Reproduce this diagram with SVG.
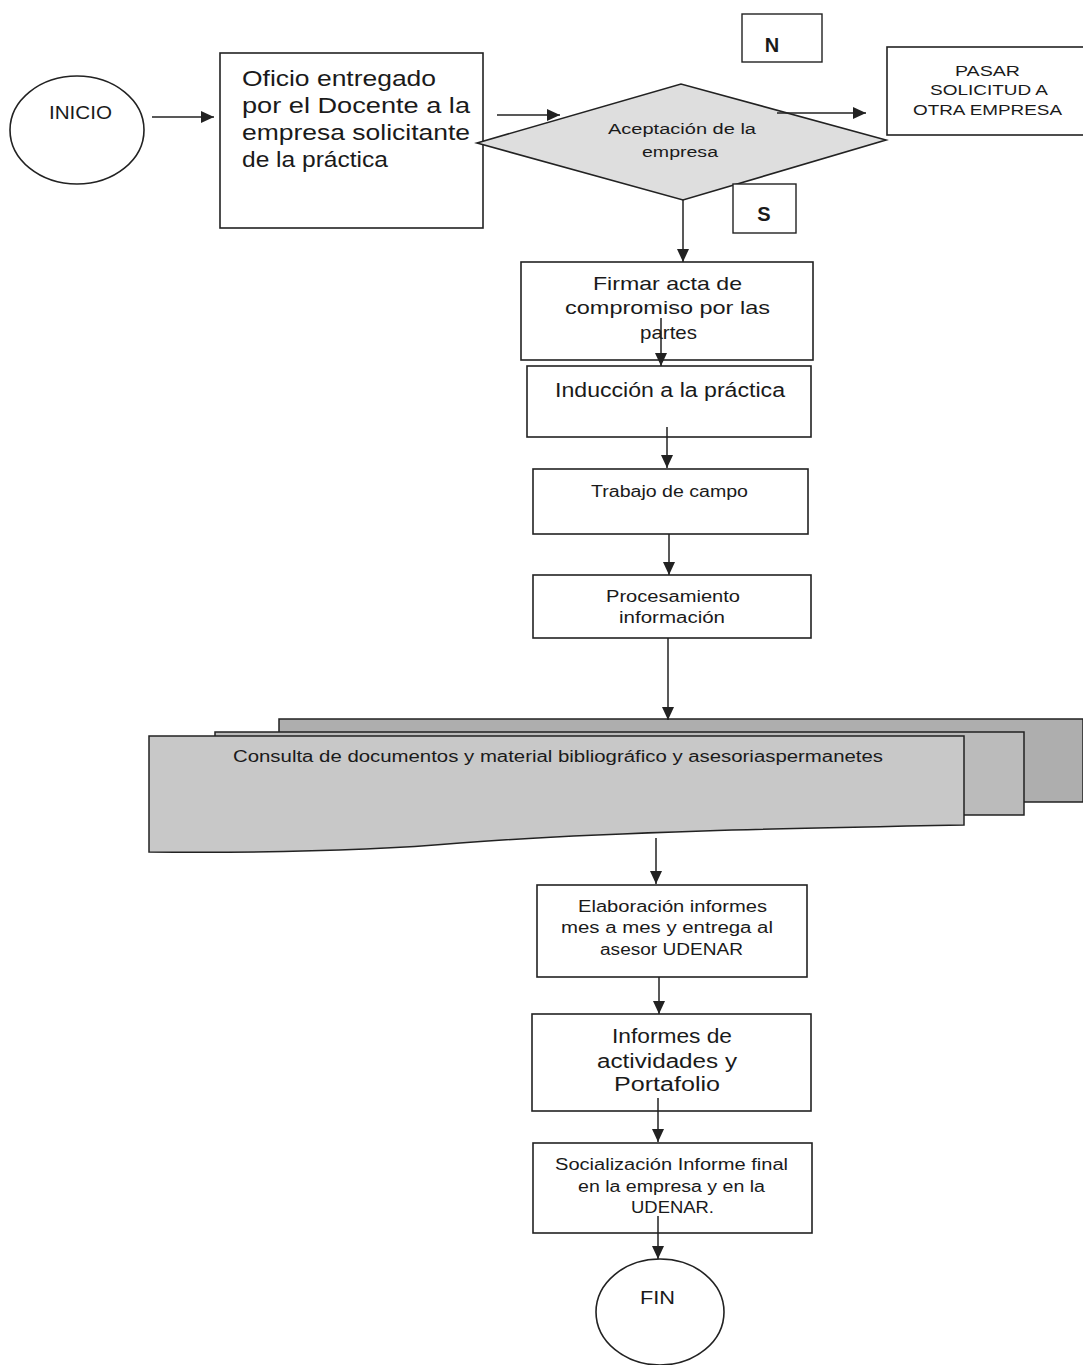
<svg xmlns="http://www.w3.org/2000/svg" width="1083" height="1365" viewBox="0 0 1083 1365">
<defs>
<style>
.box{fill:#ffffff;stroke:#222;stroke-width:1.6}
.dia{fill:#dedede;stroke:#222;stroke-width:1.6}
.lbl{fill:#ffffff;stroke:#222;stroke-width:1.4}
.t{font-family:"Liberation Sans",Arial,sans-serif;fill:#1a1a1a}
.c{text-anchor:middle}
.conn line{stroke:#222;stroke-width:1.5;marker-end:url(#ah)}
</style>
<marker id="ah" markerUnits="userSpaceOnUse" markerWidth="14" markerHeight="12" refX="13" refY="6" orient="auto">
<path d="M0,0 L13,6 L0,12 Z" fill="#222"/>
</marker>
</defs>
<rect width="1083" height="1365" fill="#ffffff"/>

<g id="sheets">
<path d="M279,719 H1083 V802 H279 Z" fill="#aeaeae" stroke="#222" stroke-width="1.5"/>
<path d="M215,732 H1024 V815 H215 Z" fill="#bbbbbb" stroke="#222" stroke-width="1.5"/>
<path d="M149,736 H964 V825 C 800,828 600,832 460,843 C 380,850 260,853 149,852 Z" fill="#c8c8c8" stroke="#222" stroke-width="1.5"/>
<text class="t" x="233" y="762" font-size="16" textLength="650" lengthAdjust="spacingAndGlyphs">Consulta de documentos y  material bibliográfico y asesoriaspermanetes</text>
</g>

<g id="inicio">
<ellipse cx="77" cy="130" rx="67" ry="54" class="box"/>
<text class="t" x="49" y="119" font-size="18" textLength="63" lengthAdjust="spacingAndGlyphs">INICIO</text>
</g>

<g id="oficio">
<rect x="220" y="53" width="263" height="175" class="box"/>
<text class="t" x="242" y="86" font-size="22" textLength="194" lengthAdjust="spacingAndGlyphs">Oficio entregado</text>
<text class="t" x="242" y="113" font-size="22" textLength="228" lengthAdjust="spacingAndGlyphs">por el Docente a la</text>
<text class="t" x="242" y="140" font-size="22" textLength="228" lengthAdjust="spacingAndGlyphs">empresa solicitante</text>
<text class="t" x="242" y="167" font-size="22" textLength="146" lengthAdjust="spacingAndGlyphs">de la práctica</text>
</g>

<g id="aceptacion">
<polygon points="477,143 681,84 886,140 683,200" class="dia"/>
<text class="t" x="608" y="134" font-size="15.5" textLength="148" lengthAdjust="spacingAndGlyphs">Aceptación de la</text>
<text class="t" x="642" y="157" font-size="15.5" textLength="76" lengthAdjust="spacingAndGlyphs">empresa</text>
</g>

<g id="labelN">
<rect x="742" y="14" width="80" height="48" class="lbl"/>
<text class="t c" x="772" y="52" font-size="20" font-weight="bold">N</text>
</g>

<g id="labelS">
<rect x="733" y="184" width="63" height="49" class="lbl"/>
<text class="t c" x="764" y="221" font-size="20" font-weight="bold">S</text>
</g>

<g id="pasar">
<rect x="887" y="47" width="200" height="88" class="box"/>
<text class="t" x="955" y="76" font-size="15" textLength="65" lengthAdjust="spacingAndGlyphs">PASAR</text>
<text class="t" x="930" y="95" font-size="15" textLength="118" lengthAdjust="spacingAndGlyphs">SOLICITUD A</text>
<text class="t" x="913" y="115" font-size="15" textLength="149" lengthAdjust="spacingAndGlyphs">OTRA EMPRESA</text>
</g>

<g id="firmar">
<rect x="521" y="262" width="292" height="98" class="box"/>
<text class="t" x="593" y="290" font-size="19" textLength="149" lengthAdjust="spacingAndGlyphs">Firmar acta de</text>
<text class="t" x="565" y="314" font-size="19" textLength="205" lengthAdjust="spacingAndGlyphs">compromiso por las</text>
<text class="t" x="640" y="339" font-size="19" textLength="57" lengthAdjust="spacingAndGlyphs">partes</text>
</g>

<g id="induccion">
<rect x="527" y="366" width="284" height="71" class="box"/>
<text class="t" x="555" y="397" font-size="20" textLength="230" lengthAdjust="spacingAndGlyphs">Inducción a la práctica</text>
</g>

<g id="trabajo">
<rect x="533" y="469" width="275" height="65" class="box"/>
<text class="t" x="591" y="497" font-size="16" textLength="157" lengthAdjust="spacingAndGlyphs">Trabajo de campo</text>
</g>

<g id="procesamiento">
<rect x="533" y="575" width="278" height="63" class="box"/>
<text class="t" x="606" y="602" font-size="16" textLength="134" lengthAdjust="spacingAndGlyphs">Procesamiento</text>
<text class="t" x="619" y="623" font-size="16" textLength="106" lengthAdjust="spacingAndGlyphs">información</text>
</g>

<g id="elaboracion">
<rect x="537" y="885" width="270" height="92" class="box"/>
<text class="t" x="578" y="912" font-size="16" textLength="189" lengthAdjust="spacingAndGlyphs">Elaboración informes</text>
<text class="t" x="561" y="933" font-size="16" textLength="212" lengthAdjust="spacingAndGlyphs">mes a mes y entrega al</text>
<text class="t" x="600" y="955" font-size="16" textLength="143" lengthAdjust="spacingAndGlyphs">asesor UDENAR</text>
</g>

<g id="informes">
<rect x="532" y="1014" width="279" height="97" class="box"/>
<text class="t" x="612" y="1043" font-size="20" textLength="120" lengthAdjust="spacingAndGlyphs">Informes de</text>
<text class="t" x="597" y="1068" font-size="20" textLength="140" lengthAdjust="spacingAndGlyphs">actividades y</text>
<text class="t" x="614" y="1091" font-size="20" textLength="106" lengthAdjust="spacingAndGlyphs">Portafolio</text>
</g>

<g id="socializacion">
<rect x="533" y="1143" width="279" height="90" class="box"/>
<text class="t" x="555" y="1170" font-size="16" textLength="233" lengthAdjust="spacingAndGlyphs">Socialización Informe final</text>
<text class="t" x="578" y="1192" font-size="16" textLength="187" lengthAdjust="spacingAndGlyphs">en la empresa y en la</text>
<text class="t" x="631" y="1213" font-size="16" textLength="83" lengthAdjust="spacingAndGlyphs">UDENAR.</text>
</g>

<g id="fin">
<ellipse cx="660" cy="1312" rx="64" ry="53" class="box"/>
<text class="t" x="640" y="1304" font-size="18" textLength="35" lengthAdjust="spacingAndGlyphs">FIN</text>
</g>

<g id="connectors" class="conn">
<line x1="152" y1="117" x2="214" y2="117"/>
<line x1="497" y1="115" x2="560" y2="115"/>
<line x1="777" y1="113" x2="866" y2="113"/>
<line x1="683" y1="200" x2="683" y2="262"/>
<line x1="661" y1="318" x2="661" y2="366"/>
<line x1="667" y1="427" x2="667" y2="468"/>
<line x1="669" y1="534" x2="669" y2="575"/>
<line x1="668" y1="638" x2="668" y2="720"/>
<line x1="656" y1="838" x2="656" y2="884"/>
<line x1="659" y1="977" x2="659" y2="1014"/>
<line x1="658" y1="1098" x2="658" y2="1142"/>
<line x1="658" y1="1216" x2="658" y2="1259"/>
</g>
</svg>
